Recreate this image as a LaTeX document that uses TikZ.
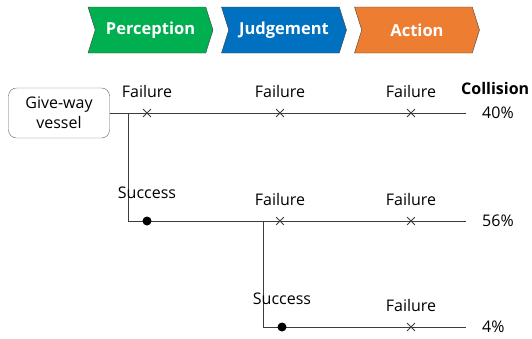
\documentclass[tikz,border=0pt]{standalone}
\usepackage{fontspec}
\setmainfont{Open Sans}
\usetikzlibrary{shapes.symbols,shapes.misc,positioning}
\definecolor{StageGreen}{RGB}{0,176,80}
\definecolor{StageBlue}{RGB}{0,112,192}
\definecolor{StageOrange}{RGB}{237,125,49}
\definecolor{LineGrey}{RGB}{60,60,60}

\begin{document}
\begin{tikzpicture}[x=1pt,y=-1pt,
    stage/.style={signal,signal to=east,signal from=west,signal pointer angle=145,
                  draw=black!75,fill=#1,text=white,font=\bfseries\fontsize{16.5}{18}\selectfont,
                  minimum width=125pt,minimum height=46pt,inner sep=0pt},
    vessel/.style={draw=black!60,rounded corners=8pt,align=center,
                   font=\fontsize{16}{20}\selectfont,minimum width=101pt,minimum height=50pt},
    branch/.style={LineGrey,line width=0.9pt},
    fail/.style={cross out,draw=LineGrey,line width=0.8pt,minimum size=7pt,inner sep=0pt,
                 label={[lbl,label distance=10pt]above:Failure}},
    ok/.style={circle,fill=black,minimum size=9pt,inner sep=0pt,
               label={[lbl,label distance=16pt]above:Success}},
    lbl/.style={font=\fontsize{16}{18}\selectfont,inner sep=1pt},
    pct/.style={anchor=west,font=\fontsize{16}{18}\selectfont,inner sep=0pt}
  ]
    \useasboundingbox (0,0) rectangle (532,338);

    % decision stages
    \node[stage=StageGreen] (perc) at (150.5,30) {Perception};
    \node[stage=StageBlue] (judg) at (284,30) {Judgement};
    \node[stage=StageOrange] (act) at (417,30) {Action};

    % event tree
    \node[vessel] (ship) at (59,113) {Give-way\\vessel};
    \coordinate (split1) at (128,113);
    \coordinate (end1) at (466,113);
    \coordinate (split2) at (263,221);
    \coordinate (end2) at (466,221);
    \coordinate (end3) at (466,327);

    \draw[branch] (ship.east) -- (end1);
    \draw[branch] (split1) |- (end2);
    \draw[branch] (split2) |- (end3);

    \node[fail] (pf) at (147,113) {};
    \node[fail] (jf1) at (280,113) {};
    \node[fail] (af1) at (411,113) {};
    \node[ok] (ps) at (147,221) {};
    \node[fail] (jf2) at (280,221) {};
    \node[fail] (af2) at (411,221) {};
    \node[ok] (js) at (282,327) {};
    \node[fail] (af3) at (411,327) {};

    % outcomes
    \node[anchor=west,font=\bfseries\fontsize{16}{18}\selectfont,inner sep=0pt] (coll) at (461,88) {Collision};
    \node[pct] (p1) at (482,113) {40\%};
    \node[pct] (p2) at (482,221) {56\%};
    \node[pct] (p3) at (482,327) {4\%};
\end{tikzpicture}
\end{document}
